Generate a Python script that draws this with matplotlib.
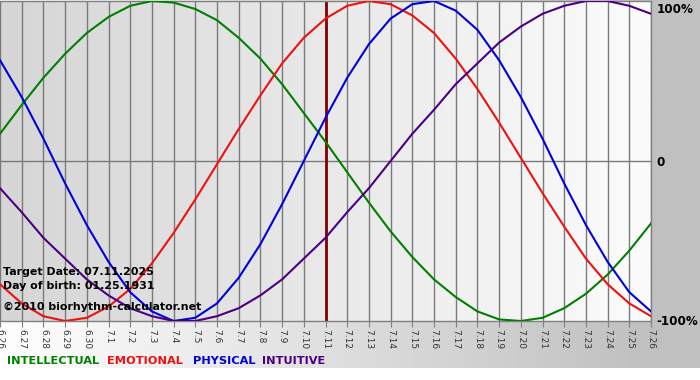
import numpy as np
import matplotlib.pyplot as plt
from matplotlib.colors import LinearSegmentedColormap

# Dni na osi X
days = ['6.26', '6.27', '6.28', '6.29', '6.30'] + ['7.%d' % d for d in range(1, 27)]

# Odczytane wartości biorytmów (-1 .. 1), po jednej na dzień
intellectual = [0.17, 0.35, 0.52, 0.67, 0.80, 0.90, 0.97, 1.00, 0.99, 0.95,
                0.88, 0.77, 0.64, 0.48, 0.30, 0.12, -0.07, -0.26, -0.44, -0.60,
                -0.74, -0.85, -0.94, -0.99, -1.00, -0.98, -0.92, -0.83, -0.71, -0.56,
                -0.39]
emotional = [-0.77, -0.89, -0.97, -1.00, -0.98, -0.91, -0.80, -0.64, -0.45, -0.24,
             -0.02, 0.20, 0.41, 0.61, 0.77, 0.89, 0.97, 1.00, 0.98, 0.91,
             0.80, 0.64, 0.45, 0.24, 0.02, -0.20, -0.41, -0.61, -0.77, -0.89,
             -0.97]
physical = [0.63, 0.40, 0.14, -0.14, -0.40, -0.63, -0.82, -0.94, -1.00, -0.98,
            -0.89, -0.73, -0.52, -0.27, 0.00, 0.27, 0.52, 0.73, 0.89, 0.98,
            1.00, 0.94, 0.82, 0.63, 0.40, 0.14, -0.14, -0.40, -0.63, -0.82,
            -0.94]
intuitive = [-0.17, -0.32, -0.48, -0.61, -0.74, -0.84, -0.92, -0.97, -1.00, -1.00,
             -0.97, -0.92, -0.84, -0.74, -0.61, -0.48, -0.32, -0.17, 0.00, 0.17,
             0.32, 0.48, 0.61, 0.74, 0.84, 0.92, 0.97, 1.00, 1.00, 0.97,
             0.92]

target_idx = 15  # 7.11

series = [('INTELLECTUAL', intellectual, '#008000'),
          ('EMOTIONAL', emotional, '#ee1111'),
          ('PHYSICAL', physical, '#0000dd'),
          ('INTUITIVE', intuitive, '#4b0082')]

fig = plt.figure(figsize=(7, 3.8), dpi=100)

# Tło całego obrazka (gradient biały -> szary)
bg = fig.add_axes([0, 12 / 380, 1, 368 / 380])
bg.set_axis_off()
grad = np.clip(np.linspace(0, 700 / 651, 700), 0, 1)[None, :]
bg.imshow(grad, aspect='auto', extent=[0, 1, 0, 1],
          cmap=LinearSegmentedColormap.from_list('bg', ['#ffffff', '#c0c0c0']))

# Obszar wykresu
ax = fig.add_axes([0, 1 - 321 / 380, 651 / 700, 320 / 380])
x = np.arange(len(days))
ax.imshow(np.linspace(0, 1, 256)[None, :], aspect='auto', extent=[0, 30, -1, 1],
          cmap=LinearSegmentedColormap.from_list('pl', ['#d6d6d6', '#fcfcfc']), zorder=0)

ax.set_xlim(0, 30)
ax.set_ylim(-1, 1)
ax.set_xticks(x)
ax.set_xticklabels(days, rotation=-90, fontsize=6.5, color='#333333')
ax.tick_params(axis='x', length=4, color='#808080', pad=2)
ax.grid(axis='x', color='#7a7a7a', linewidth=1, zorder=1)
ax.axhline(0, color='#7a7a7a', linewidth=1, zorder=1)
ax.set_yticks([])
for s in ax.spines.values():
    s.set_color('#808080')
    s.set_linewidth(1)
ax.spines['left'].set_visible(False)

ax.axvline(target_idx, color='#800000', linewidth=2, zorder=2)

for name, vals, col in series:
    ax.plot(x, vals, color=col, linewidth=1.5, zorder=3, solid_joinstyle='round')

# Etykiety po prawej
ax.text(1.009, 0.995, '100%', transform=ax.transAxes, ha='left', va='top',
        fontsize=8.6, fontweight='bold')
ax.text(1.009, 0.495, '0', transform=ax.transAxes, ha='left', va='center',
        fontsize=8.6, fontweight='bold')
ax.text(1.009, -0.003, '-100%', transform=ax.transAxes, ha='left', va='center',
        fontsize=8.6, fontweight='bold')

# Napisy informacyjne
ax.text(3 / 651, 0.153, 'Target Date: 07.11.2025', transform=ax.transAxes,
        va='center', fontsize=7.9, fontweight='bold', zorder=5)
ax.text(3 / 651, 0.109, 'Day of birth: 01.25.1931', transform=ax.transAxes,
        va='center', fontsize=7.9, fontweight='bold', zorder=5)
ax.text(3 / 651, 0.044, '\u00a92010 biorhythm-calculator.net', transform=ax.transAxes,
        va='center', fontsize=7.9, fontweight='bold', zorder=5)

# Legenda na dole
lx = [7, 107, 193, 262]
for (name, vals, col), px in zip(series, lx):
    fig.text(px / 700, 1 - 361 / 380, name, color=col, fontsize=8.2,
             fontweight='bold', va='center')

fig.savefig('out.png', dpi=100)
